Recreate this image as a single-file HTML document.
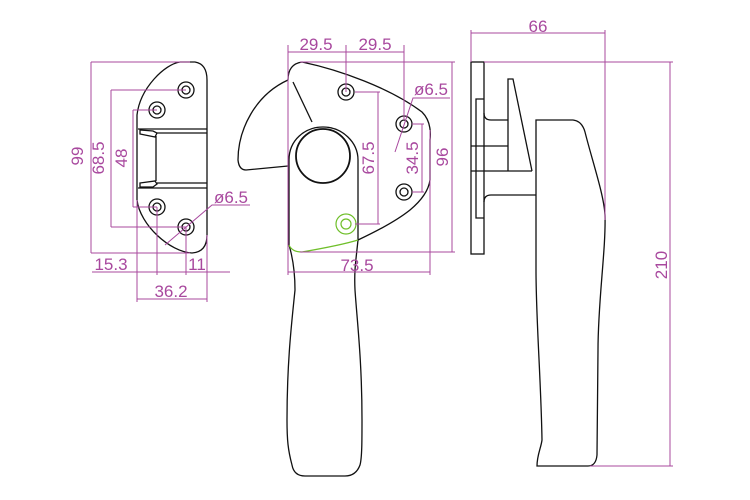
<!DOCTYPE html>
<html><head><style>html,body{margin:0;padding:0;background:#fff}svg{display:block}</style></head>
<body>
<svg width="750" height="500" viewBox="0 0 750 500" xmlns="http://www.w3.org/2000/svg">
<g fill="none" stroke="#111" stroke-width="1.3">
<!-- LEFT plate -->
<path d="M137,115 C140,88 165,64 180,62 L195,62 Q207,64 207,80 L207,235 Q207,252 192,253 C170,252 140,225 137,200 Z"/>
<circle cx="186" cy="90" r="8"/><circle cx="186" cy="90" r="4"/>
<circle cx="157" cy="110" r="8"/><circle cx="157" cy="110" r="4"/>
<circle cx="157" cy="207" r="8"/><circle cx="157" cy="207" r="4"/>
<circle cx="186" cy="227" r="8"/><circle cx="186" cy="227" r="4"/>
<path d="M138,129 L207,129 M157,133 L207,133 M157,183 L207,183 M138,188 L207,188"/>
<path d="M140,130 L153,131 L157,133 L155,137 L140,134 Z"/>
<path d="M140,183 L155,181 L157,184 L153,187 L140,187 Z"/>
<path d="M156,136 L156,181"/>
<!-- MIDDLE -->
<path d="M288,80 Q288,64 302,62 C340,70 390,88 422,112 Q432,122 430,140 L430,180 Q428,195 410,210 C395,222 375,232 358,240"/>
<path d="M288,80 C255,95 238,130 238,160 Q239,170 246,170 L288,166"/>
<path d="M293,82 L312,122"/>
<path d="M289,167 L289,160 C289,140 305,127 323,127 C342,127 358,142 358,160 L358,240 C356,260 354,270 355,290 C357,320 362,360 362,420 C362,440 362,458 360,465 Q356,476 345,476 L305,476 Q294,476 292,465 C288,450 287,440 287,420 C287,360 292,320 295,290 C295,270 292,255 289,245 Z"/>
<circle cx="323" cy="156" r="27" stroke-width="1.8"/>
<circle cx="346" cy="92" r="8"/><circle cx="346" cy="92" r="4"/>
<circle cx="404" cy="124" r="8"/><circle cx="404" cy="124" r="4"/>
<circle cx="404" cy="192" r="8"/><circle cx="404" cy="192" r="4"/>
<!-- RIGHT -->
<rect x="471" y="62" width="13" height="192"/>
<path d="M484,99 L476,99 L476,218 L484,218"/>
<path d="M471,146 L508,146 M471,171 L532,171"/>
<path d="M508,171 L508,79 L513,79 L532,171"/>
<path d="M484,113 Q484,120 491,120 L508,120"/>
<path d="M484,202 Q484,195 491,195 L536,195"/>
<path d="M536,120 L573,120 Q582,121 585,132 C592,160 604,195 605,215 C606,250 598,300 598,350 L597,455 Q596,466 588,466 L537,466 C537,455 541,448 542,440 C541,380 536,320 536,270 Z"/>
</g>
<g fill="none" stroke="#6fbf2a" stroke-width="1.2">
<circle cx="346" cy="224" r="10"/><circle cx="346" cy="224" r="5"/>
<path d="M289,245 Q292,252 302,252 C325,248 345,244 358,240"/>
</g>
<g fill="none" stroke="#a8489e" stroke-width="1">
<path d="M91,62 L190,62 M91,253 L190,253 M91,62 L91,253"/>
<path d="M111,90 L186,90 M111,227 L186,227 M111,90 L111,227"/>
<path d="M133,110 L157,110 M133,207 L157,207 M133,110 L133,207"/>
<path d="M92,272 L230,272 M137,200 L137,302 M157,207 L157,275 M186,227 L186,275 M207,235 L207,302 M137,299 L207,299"/>
<path d="M165,245 L212,205 L250,205"/>
<path d="M288,45 L288,275 M346,45 L346,92 M404,45 L404,120 M288,52 L404,52"/>
<path d="M300,62 L455,62 M300,252 L455,252 M452,62 L452,252"/>
<path d="M355,92 L380,92 M355,224 L380,224 M378,92 L378,224"/>
<path d="M412,124 L424,124 M412,192 L424,192 M422,124 L422,192"/>
<path d="M395,152 L413,98 L450,98"/>
<path d="M288,272 L430,272 M430,130 L430,275"/>
<path d="M471,33 L605,33 M471,30 L471,62 M605,30 L605,220"/>
<path d="M484,62 L673,62 M590,466 L673,466 M670,62 L670,466"/>
</g>
<g fill="#a8489e" font-family="Liberation Sans, sans-serif" font-size="17">
<text x="83" y="156" transform="rotate(-90 83 156)" text-anchor="middle">99</text>
<text x="104" y="158" transform="rotate(-90 104 158)" text-anchor="middle">68.5</text>
<text x="127" y="158" transform="rotate(-90 127 158)" text-anchor="middle">48</text>
<text x="111" y="270" text-anchor="middle">15.3</text>
<text x="197" y="270" text-anchor="middle">11</text>
<text x="171" y="297" text-anchor="middle">36.2</text>
<text x="231" y="203" text-anchor="middle">ø6.5</text>
<text x="316" y="50" text-anchor="middle">29.5</text>
<text x="375" y="50" text-anchor="middle">29.5</text>
<text x="431" y="95" text-anchor="middle">ø6.5</text>
<text x="374" y="158" transform="rotate(-90 374 158)" text-anchor="middle">67.5</text>
<text x="418" y="158" transform="rotate(-90 418 158)" text-anchor="middle">34.5</text>
<text x="448" y="157" transform="rotate(-90 448 157)" text-anchor="middle">96</text>
<text x="357" y="271" text-anchor="middle">73.5</text>
<text x="538" y="32" text-anchor="middle">66</text>
<text x="667" y="265" transform="rotate(-90 667 265)" text-anchor="middle">210</text>
</g>
</svg>
</body></html>
